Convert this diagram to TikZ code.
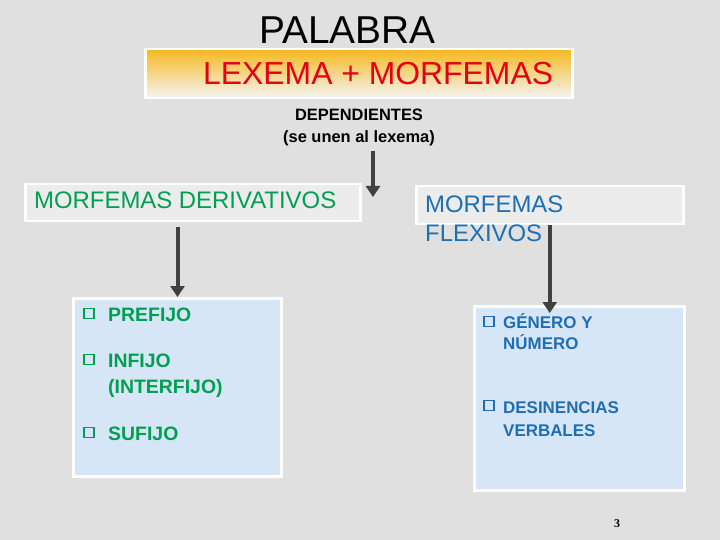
\documentclass[tikz,border=0pt]{standalone}
\usepackage{fontspec}
\setmainfont{Liberation Sans}
\newfontfamily\serifb{Liberation Serif}
\usetikzlibrary{arrows.meta}
\definecolor{bg}{RGB}{224,224,224}
\definecolor{grn}{RGB}{0,160,80}
\definecolor{blu}{RGB}{30,110,180}
\definecolor{lblue}{RGB}{214,230,246}
\definecolor{lgray}{RGB}{236,236,236}
\definecolor{arrowc}{RGB}{64,64,64}
\definecolor{redt}{RGB}{230,0,18}
\definecolor{gold}{RGB}{245,185,30}
\begin{document}
\begin{tikzpicture}[x=1bp,y=-1bp,
  box/.style={draw=white,line width=2.5bp,anchor=north west,inner sep=0,rectangle},
  arr/.style={draw=arrowc,line width=4bp,-{Triangle[width=14bp,length=11bp]}},
  txt/.style={anchor=base west,inner sep=0},
  bul/.style={draw=#1,line width=1.5bp,minimum size=10bp,inner sep=0,anchor=south west}
]
\fill[bg] (0,0) rectangle (720,540);
\useasboundingbox (0,0) rectangle (720,540);

% title
\node[txt,text=black,font=\fontsize{39}{39}\selectfont] (palabra) at (259,44) {PALABRA};

\node[box,minimum width=427bp,minimum height=49bp,top color=gold,middle color=white,bottom color=gray!8] (lexbox) at (144,48) {};
\node[txt,text=redt,font=\fontsize{32}{32}\selectfont] (lexema) at (203,85) {LEXEMA + MORFEMAS};

% dependientes
\node[anchor=base,inner sep=0,font=\bfseries\fontsize{16.5}{16.5}\selectfont] (dep1) at (359,121) {DEPENDIENTES};
\node[anchor=base,inner sep=0,font=\bfseries\fontsize{16.5}{16.5}\selectfont] (dep2) at (359,143) {(se unen al lexema)};

% second level boxes
\node[box,fill=lgray,minimum width=335bp,minimum height=37bp] (deriv) at (24,183) {};
\node[txt,text=grn,font=\fontsize{24}{24}\selectfont] (derivt) at (34,209) {MORFEMAS DERIVATIVOS};

\node[box,fill=lgray,minimum width=267bp,minimum height=38bp] (flex) at (415,185) {};
\node[txt,text=blu,font=\fontsize{24}{24}\selectfont] (flext1) at (425,213) {MORFEMAS};
\node[txt,text=blu,font=\fontsize{24}{24}\selectfont] (flext2) at (425,242) {FLEXIVOS};

% third level boxes
\node[box,fill=lblue,line width=3bp,minimum width=208bp,minimum height=178bp] (lb) at (72,297) {};
\node[bul=grn] (lbb1) at (83,319) {};
\node[bul=grn] (lbb2) at (83,365) {};
\node[bul=grn] (lbb3) at (83,438) {};
\begin{scope}[every node/.style={txt,text=grn,font=\bfseries\fontsize{19.5}{19.5}\selectfont}]
\node (pref) at (108,321) {PREFIJO};
\node (inf1) at (108,367) {INFIJO};
\node (inf2) at (108,393) {(INTERFIJO)};
\node (suf) at (108,440) {SUFIJO};
\end{scope}

\node[box,fill=lblue,line width=3bp,minimum width=210bp,minimum height=184bp] (rb) at (473,305) {};
\node[bul=blu] (rbb1) at (483,327) {};
\node[bul=blu] (rbb2) at (483,411) {};
\begin{scope}[every node/.style={txt,text=blu,font=\bfseries\fontsize{17}{17}\selectfont}]
\node (gen1) at (503,328) {GÉNERO Y};
\node (gen2) at (503,349) {NÚMERO};
\node (des1) at (503,413) {DESINENCIAS};
\node (des2) at (503,436) {VERBALES};
\end{scope}

% arrows
\coordinate (mtop) at (373,151);
\coordinate (mtip) at (373,197);
\draw[arr] (mtop) -- (mtip);
\draw[arr] ([yshift=-5bp]lb.north |- deriv.south) -- (lb.north);
\draw[arr] (flex.south) -- ([yshift=-8bp]flex.south |- rb.north);

% page number
\node[txt,font=\serifb\bfseries\fontsize{12}{12}\selectfont] (pg) at (614,527) {3};
\end{tikzpicture}
\end{document}
